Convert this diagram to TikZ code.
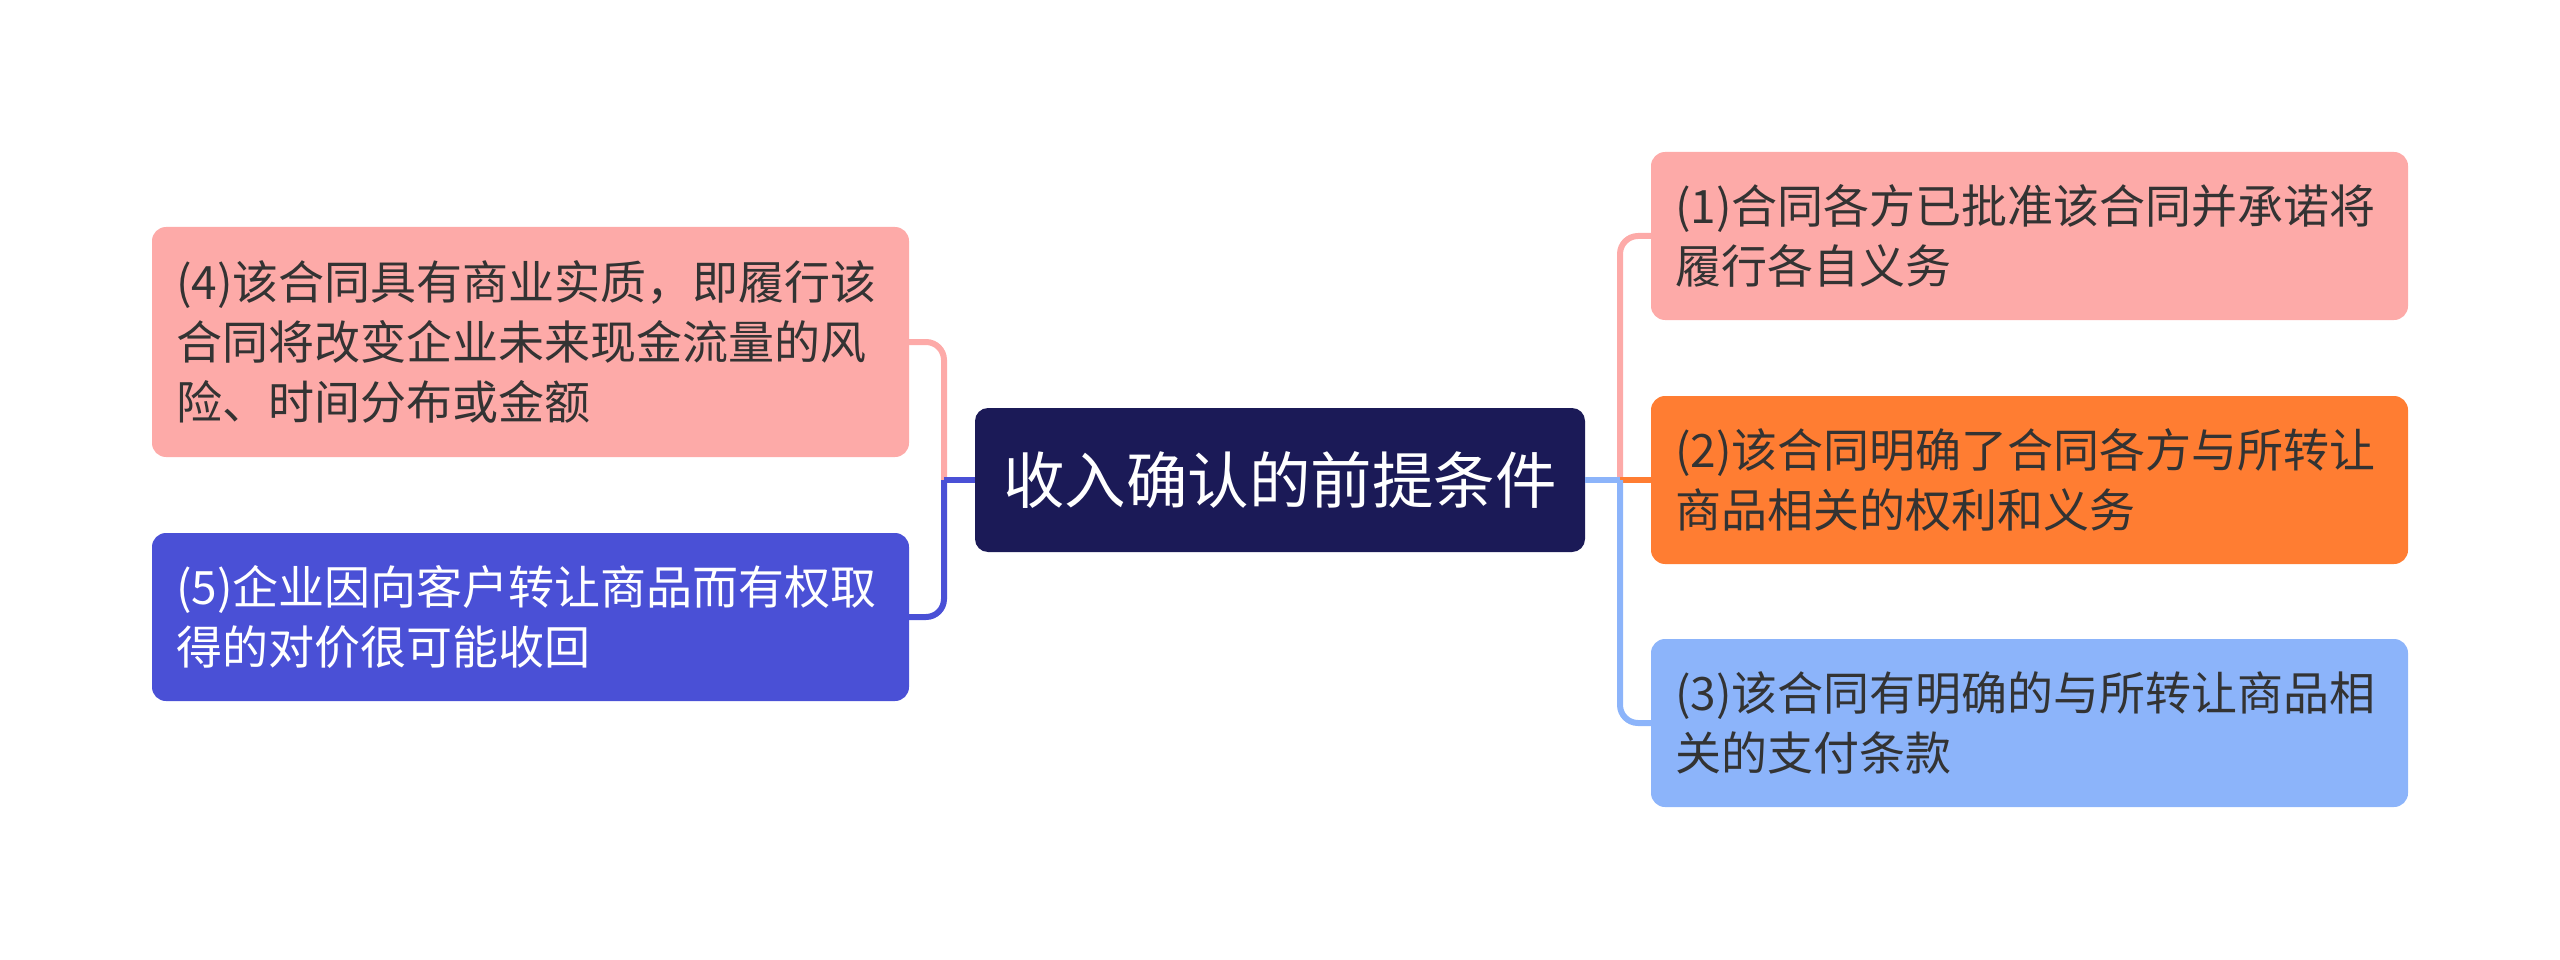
\documentclass[tikz,border=0pt]{standalone}
\usepackage{fontspec}
\setmainfont{Noto Sans CJK SC}
\definecolor{navy}{RGB}{27,26,87}
\definecolor{pinkc}{RGB}{253,170,168}
\definecolor{orangec}{RGB}{255,125,50}
\definecolor{lblue}{RGB}{140,180,250}
\definecolor{bluec}{RGB}{74,80,214}
\definecolor{txt}{RGB}{51,51,51}
\begin{document}
\begin{tikzpicture}[x=1pt,y=-1pt,
  leaf/.style={rectangle, rounded corners=14, minimum width=757, minimum height=168,
    text width=709, align=left, inner xsep=24, inner ysep=0,
    font=\fontsize{46}{60}\selectfont, text=txt},
  centre/.style={rectangle, rounded corners=13, fill=navy, text=white,
    minimum width=610, minimum height=144, inner sep=0,
    font=\fontsize{61.5}{72}\selectfont},
  conn/.style={line width=6, rounded corners=18}]
\useasboundingbox (0,0) rectangle (2560,960);
\node[centre] (c) at (1280,480) {收入确认的前提条件};
\node[leaf, fill=pinkc, minimum height=230] (n4) at (530.5,342) {(4)该合同具有商业实质，即履行该\\合同将改变企业未来现金流量的风\\险、时间分布或金额};
\node[leaf, fill=bluec, text=white] (n5) at (530.5,617) {(5)企业因向客户转让商品而有权取\\得的对价很可能收回};
\node[leaf, fill=pinkc] (n1) at (2029.5,236) {(1)合同各方已批准该合同并承诺将\\履行各自义务};
\node[leaf, fill=orangec] (n2) at (2029.5,480) {(2)该合同明确了合同各方与所转让\\商品相关的权利和义务};
\node[leaf, fill=lblue] (n3) at (2029.5,723) {(3)该合同有明确的与所转让商品相\\关的支付条款};
\coordinate (jl) at (944,480);
\coordinate (jr) at (1620,480);
\draw[conn, pinkc] (jl) |- (n4.east);
\draw[conn, bluec] (jl) |- (n5.east);
\draw[line width=6, bluec] (c.west) -- (jl);
\draw[conn, pinkc] (jr) |- (n1.west);
\draw[line width=6, orangec] (jr) -- (n2.west);
\draw[conn, lblue] (jr) |- (n3.west);
\draw[line width=6, lblue] (c.east) -- (jr);
\end{tikzpicture}
\end{document}
